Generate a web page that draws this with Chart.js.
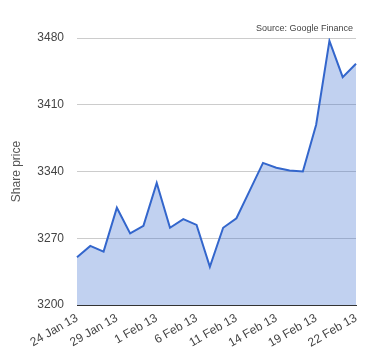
<!DOCTYPE html>
<html>
<head>
<meta charset="utf-8">
<script src="https://cdn.jsdelivr.net/npm/chart.js@4"></script>
<style>
  body { margin: 0; background: #fff; }
  #wrap { width: 380px; height: 360px; }
</style>
</head>
<body>
<div id="wrap"><canvas id="chart"></canvas></div>
<script>
const dates = ["24 Jan 13", "25 Jan 13", "28 Jan 13", "29 Jan 13", "30 Jan 13", "31 Jan 13",
    "1 Feb 13", "4 Feb 13", "5 Feb 13", "6 Feb 13", "7 Feb 13", "8 Feb 13",
    "11 Feb 13", "12 Feb 13", "13 Feb 13", "14 Feb 13", "15 Feb 13", "18 Feb 13",
    "19 Feb 13", "20 Feb 13", "21 Feb 13", "22 Feb 13"];
const sharePrice = [3250, 3262, 3256, 3302, 3275, 3283, 3328, 3281, 3290, 3284, 3240,
    3281, 3291, 3320, 3349, 3344, 3341, 3340, 3389, 3477, 3439, 3453];
const yTicks = [3200, 3270, 3340, 3410, 3480];
const sourceText = "Source: Google Finance";

const textColor = "#444";
const fontFamily = "Arial, 'Liberation Sans', sans-serif";

// small caption above the plot, right aligned
const sourcePlugin = {
    id: "sourceNote",
    afterDraw(chart) {
        const ctx = chart.ctx;
        const area = chart.chartArea;
        ctx.save();
        ctx.font = "9px " + fontFamily;
        ctx.fillStyle = textColor;
        ctx.textAlign = "right";
        ctx.textBaseline = "alphabetic";
        ctx.fillText(sourceText, area.right - 3, area.top - 7);
        ctx.restore();
    }
};

new Chart(document.getElementById("chart"), {
    type: "line",
    data: {
        labels: dates,
        datasets: [{
            label: "Share price",
            data: sharePrice,
            borderColor: "#3366cc",
            borderWidth: 2,
            backgroundColor: "rgba(51, 102, 204, 0.3)",
            fill: "start",
            pointRadius: 0,
            tension: 0
        }]
    },
    options: {
        responsive: true,
        maintainAspectRatio: false,
        animation: false,
        layout: { padding: { top: 38, right: 24, left: 0, bottom: 0 } },
        plugins: {
            legend: { display: false },
            tooltip: { enabled: false }
        },
        scales: {
            x: {
                grid: { display: false, drawTicks: false },
                border: { color: "#333", width: 1 },
                ticks: {
                    autoSkip: false,
                    maxRotation: 30,
                    minRotation: 30,
                    padding: 6,
                    color: textColor,
                    font: { size: 12, family: fontFamily },
                    callback: function (value, index) {
                        return index % 3 === 0 ? dates[index] : "";
                    }
                },
                afterFit(scale) { scale.height = 55; }
            },
            y: {
                min: yTicks[0],
                max: yTicks[yTicks.length - 1],
                afterBuildTicks(scale) {
                    scale.ticks = yTicks.map(v => ({ value: v }));
                },
                border: { display: false },
                grid: {
                    drawTicks: false,
                    color: ctx => ctx.tick && ctx.tick.value === yTicks[0] ? "#333" : "#ccc"
                },
                ticks: {
                    padding: 13,
                    color: textColor,
                    font: { size: 12, family: fontFamily },
                    callback: value => String(value)
                },
                title: {
                    display: true,
                    text: "Share price",
                    color: "#555",
                    font: { size: 12, family: fontFamily },
                    padding: { top: 9, bottom: 0 }
                },
                afterFit(scale) { scale.width = 77; }
            }
        }
    },
    plugins: [sourcePlugin]
});
</script>
</body>
</html>
